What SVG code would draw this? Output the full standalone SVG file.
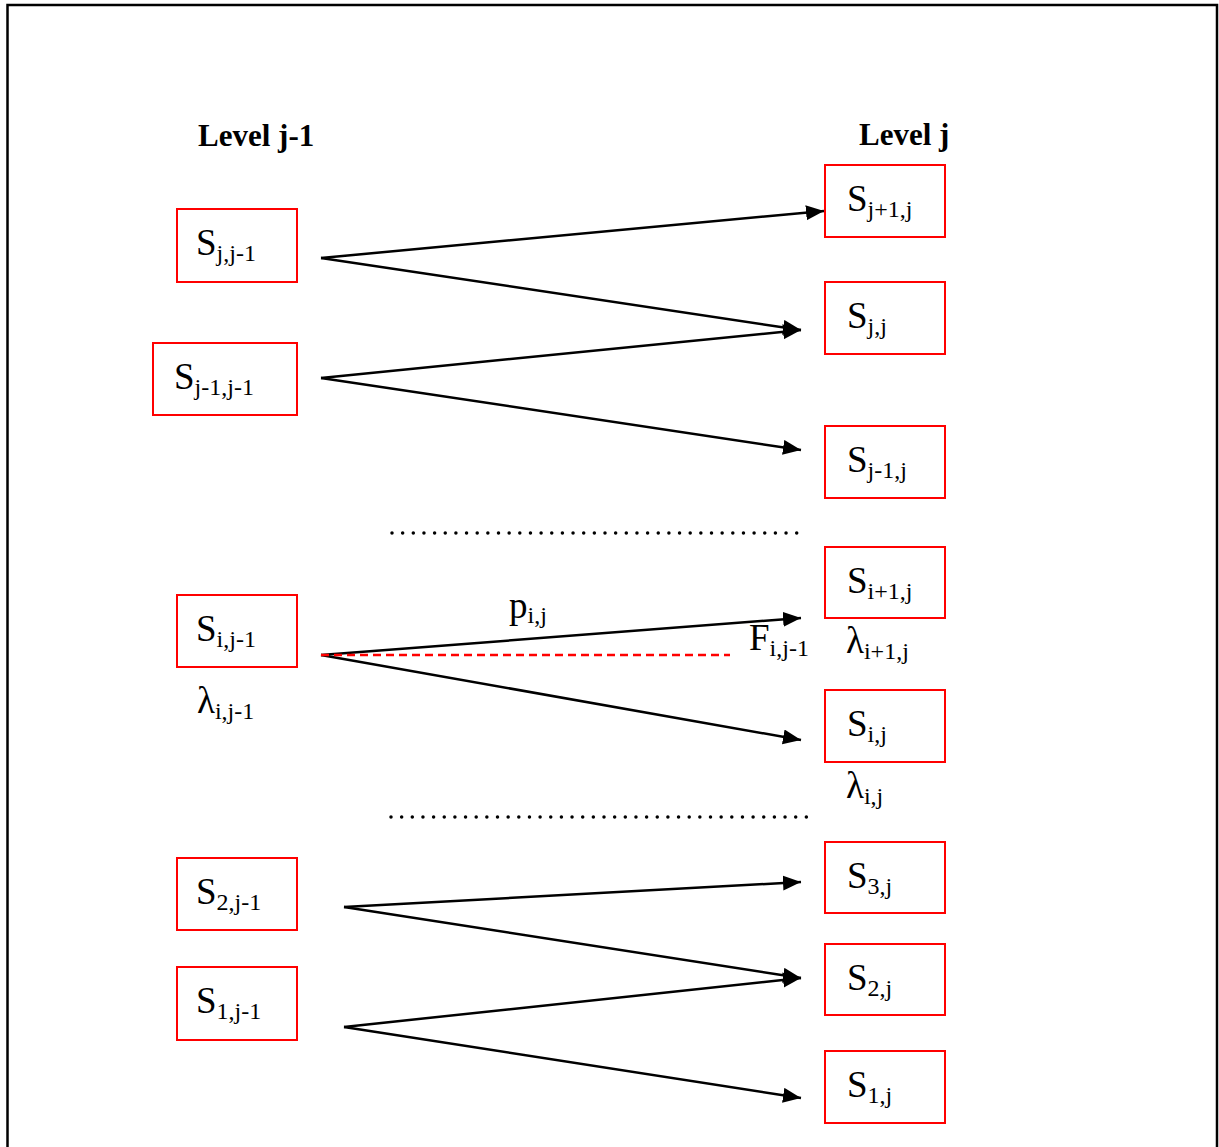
<svg xmlns="http://www.w3.org/2000/svg" width="1219" height="1147" viewBox="0 0 1219 1147">
<style>
.frame{fill:none;stroke:#000;stroke-width:2.5}
.box{fill:#fff;stroke:#f00;stroke-width:2}
.t{font-family:"Liberation Serif","Times New Roman",serif;font-size:37px;fill:#000}
.s{font-size:24px}
.h{font-family:"Liberation Serif","Times New Roman",serif;font-size:31px;font-weight:bold;fill:#000}
.c{stroke:#000;stroke-width:2.5;fill:none;marker-end:url(#ah)}
.red{stroke:#f00;stroke-width:2.5;stroke-dasharray:8 5;fill:none}
.dots{stroke:#000;stroke-width:3.5;stroke-linecap:round;stroke-dasharray:0 10.65;fill:none}
</style>
<defs>
<marker id="ah" markerUnits="userSpaceOnUse" markerWidth="19" markerHeight="16" refX="18" refY="7.5" orient="auto">
<path d="M0,0 L18,7.5 L0,15 z" fill="#000"/>
</marker>
</defs>
<rect width="1219" height="1147" fill="#fff"/>
<path class="frame" d="M7.5,1147 V5 H1217 V1147"/>
<text class="h" x="198" y="146">Level j-1</text>
<text class="h" x="859" y="145">Level j</text>

<g id="connectors">
<line class="c" x1="321" y1="258" x2="824" y2="211"/>
<line class="c" x1="321" y1="258" x2="801" y2="330"/>
<line class="c" x1="321" y1="378" x2="801" y2="330"/>
<line class="c" x1="321" y1="378" x2="801" y2="450"/>
<line class="c" x1="321" y1="655" x2="801" y2="618"/>
<line class="c" x1="321" y1="655" x2="801" y2="740"/>
<line class="red" x1="321" y1="655" x2="730" y2="655"/>
<line class="c" x1="344" y1="907" x2="801" y2="882"/>
<line class="c" x1="344" y1="907" x2="801" y2="978"/>
<line class="c" x1="344" y1="1027" x2="801" y2="978"/>
<line class="c" x1="344" y1="1027" x2="801" y2="1098"/>
</g>

<line class="dots" x1="392" y1="533" x2="798" y2="533"/>
<line class="dots" x1="391" y1="817" x2="811" y2="817"/>

<g id="n-sjj1"><rect class="box" x="177" y="209" width="120" height="73"/><text class="t" x="196" y="255">S<tspan class="s" dy="6">j,j-1</tspan></text></g>
<g id="n-sj1j1"><rect class="box" x="153" y="343" width="144" height="72"/><text class="t" x="174" y="389">S<tspan class="s" dy="6">j-1,j-1</tspan></text></g>
<g id="n-sij1"><rect class="box" x="177" y="595" width="120" height="72"/><text class="t" x="196" y="641">S<tspan class="s" dy="6">i,j-1</tspan></text></g>
<g id="n-s2j1"><rect class="box" x="177" y="858" width="120" height="72"/><text class="t" x="196" y="904">S<tspan class="s" dy="6">2,j-1</tspan></text></g>
<g id="n-s1j1"><rect class="box" x="177" y="967" width="120" height="73"/><text class="t" x="196" y="1013">S<tspan class="s" dy="6">1,j-1</tspan></text></g>

<g id="n-sj1j"><rect class="box" x="825" y="165" width="120" height="72"/><text class="t" x="847" y="211">S<tspan class="s" dy="6">j+1,j</tspan></text></g>
<g id="n-sjj"><rect class="box" x="825" y="282" width="120" height="72"/><text class="t" x="847" y="328">S<tspan class="s" dy="6">j,j</tspan></text></g>
<g id="n-sjm1j"><rect class="box" x="825" y="426" width="120" height="72"/><text class="t" x="847" y="472">S<tspan class="s" dy="6">j-1,j</tspan></text></g>
<g id="n-si1j"><rect class="box" x="825" y="547" width="120" height="71"/><text class="t" x="847" y="593">S<tspan class="s" dy="6">i+1,j</tspan></text></g>
<g id="n-sij"><rect class="box" x="825" y="690" width="120" height="72"/><text class="t" x="847" y="736">S<tspan class="s" dy="6">i,j</tspan></text></g>
<g id="n-s3j"><rect class="box" x="825" y="842" width="120" height="71"/><text class="t" x="847" y="888">S<tspan class="s" dy="6">3,j</tspan></text></g>
<g id="n-s2j"><rect class="box" x="825" y="944" width="120" height="71"/><text class="t" x="847" y="990">S<tspan class="s" dy="6">2,j</tspan></text></g>
<g id="n-s1j"><rect class="box" x="825" y="1051" width="120" height="72"/><text class="t" x="847" y="1097">S<tspan class="s" dy="6">1,j</tspan></text></g>

<text class="t" x="509" y="618">p<tspan class="s" dy="5">i,j</tspan></text>
<text class="t" x="749" y="650">F<tspan class="s" dy="6">i,j-1</tspan></text>
<text class="t" x="846" y="653">λ<tspan class="s" dy="6">i+1,j</tspan></text>
<text class="t" x="197" y="713">λ<tspan class="s" dy="6">i,j-1</tspan></text>
<text class="t" x="846" y="798">λ<tspan class="s" dy="6">i,j</tspan></text>
</svg>
